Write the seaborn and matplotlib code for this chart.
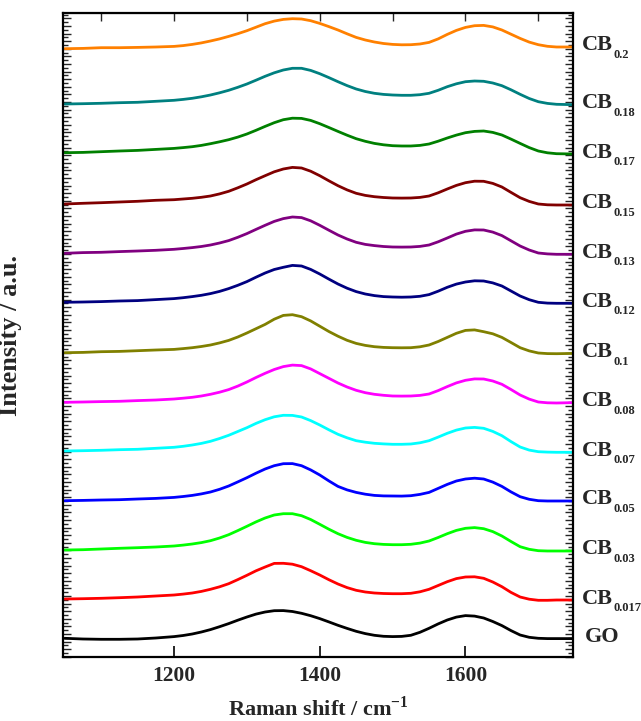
import pandas as pd
import matplotlib
matplotlib.use("Agg")
import matplotlib.pyplot as plt
import matplotlib.transforms as mtransforms
from matplotlib.ticker import MultipleLocator, AutoMinorLocator, NullFormatter
import seaborn as sns

shift = [1050, 1075, 1100, 1125, 1150, 1175, 1200, 1212.5, 1225, 1237.5, 1250,
         1262.5, 1275, 1287.5, 1300, 1312.5, 1325, 1337.5, 1350, 1362.5, 1375,
         1387.5, 1400, 1412.5, 1425, 1437.5, 1450, 1462.5, 1475, 1487.5, 1500,
         1512.5, 1525, 1537.5, 1550, 1562.5, 1575, 1587.5, 1600, 1612.5, 1625,
         1637.5, 1650, 1662.5, 1675, 1687.5, 1700, 1712.5, 1725, 1750]

# intensities (a.u.), bottom spectrum first
go = [0, -0.7, -1.0, -1.0, -0.7, 0.3, 1.7, 2.8, 4.3, 6.3, 8.7, 11.6, 14.7, 18.1,
      21.3, 24.2, 26.3, 27.6, 27.7, 26.8, 25.0, 22.6, 19.7, 16.4, 13.0, 9.9, 7.0,
      4.7, 3.0, 2.0, 1.7, 1.9, 3.0, 6.0, 10.0, 14.4, 18.3, 21.2, 22.7, 22.2, 20.3,
      16.8, 12.7, 7.7, 3.3, 1.0, 0, -0.3, -0.3, -0.3]
cb_0017 = [0, 0.3, 0.7, 1.3, 2.0, 3.0, 4.0, 4.9, 6.0, 7.6, 9.7, 12.2, 15.3, 19.4,
           23.7, 28.2, 32.0, 35.6, 35.7, 34.8, 32.3, 28.3, 24.0, 19.3, 15.0, 11.4,
           8.7, 7.0, 6.0, 5.5, 5.3, 5.3, 5.7, 7.2, 9.7, 13.5, 17.3, 20.4, 22.0,
           22.2, 20.7, 17.0, 12.3, 6.6, 2.0, -0.2, -1.3, -1.3, -1.0, -1.0]
cb_003 = [0, 0.3, 1.0, 1.7, 2.3, 3.0, 4.0, 4.9, 6.0, 7.4, 9.3, 12.0, 15.3, 19.4,
          23.7, 28.1, 32.0, 35.0, 36.3, 36.3, 34.3, 30.5, 25.7, 20.8, 16.3, 12.6,
          9.7, 7.6, 6.3, 5.6, 5.3, 5.3, 5.7, 6.9, 9.0, 12.5, 16.3, 19.6, 21.7,
          22.4, 21.3, 18.4, 14.0, 8.5, 3.3, 0.7, -0.7, -1.0, -1.0, -1.0]
cb_005 = [0, 0.3, 0.7, 1.0, 1.7, 2.3, 3.3, 4.2, 5.3, 6.8, 8.7, 11.4, 14.7, 18.8,
          23.0, 27.5, 31.7, 35.0, 37.0, 37.1, 35.0, 30.8, 25.7, 19.8, 14.3, 10.8,
          8.3, 6.5, 5.3, 4.8, 4.7, 4.6, 5.0, 6.3, 8.3, 12.3, 16.3, 19.7, 21.7,
          22.5, 21.7, 18.6, 14.3, 8.8, 4.0, 1.4, 0, -0.3, -0.3, -0.3]
cb_007 = [0, 0.3, 0.7, 1.3, 1.7, 2.7, 3.7, 4.7, 6.0, 7.6, 9.7, 12.5, 15.7, 19.5,
          23.3, 27.6, 31.3, 34.2, 35.7, 35.6, 34.0, 30.4, 26.0, 21.2, 16.7, 13.2,
          10.3, 8.8, 7.7, 7.1, 6.7, 6.7, 7.0, 8.2, 10.3, 13.9, 17.7, 20.9, 23.0,
          23.6, 22.7, 19.6, 15.3, 9.4, 4.0, 0.9, -0.7, -1.1, -1.3, -1.3]
cb_008 = [0, 0.3, 0.7, 1.0, 1.7, 2.3, 3.3, 4.1, 5.0, 6.3, 8.0, 10.1, 12.7, 16.2,
          20.3, 24.8, 29.0, 32.8, 35.7, 37.2, 36.7, 33.4, 28.7, 24.0, 19.3, 15.3,
          12.0, 9.6, 8.0, 7.0, 6.3, 6.2, 6.3, 6.9, 8.3, 11.7, 15.7, 19.4, 22.0,
          23.4, 23.3, 21.3, 18.0, 12.8, 7.3, 3.2, 0.3, -0.5, -0.7, -0.3]
cb_01 = [0, 0.3, 1.0, 1.3, 2.0, 2.7, 3.3, 4.1, 5.0, 6.2, 7.7, 9.8, 12.3, 15.7,
         19.7, 24.0, 28.3, 33.5, 37.3, 38.0, 36.0, 31.8, 26.5, 21.2, 16.5, 12.4,
         9.3, 7.3, 6.0, 5.3, 5.0, 4.9, 5.0, 5.9, 7.7, 11.2, 15.3, 19.4, 22.3,
         22.8, 21.0, 18.9, 15.3, 10.2, 5.0, 1.8, -0.3, -0.9, -1.0, -0.7]
cb_012 = [0, 0.3, 0.7, 1.3, 1.7, 2.7, 3.7, 4.6, 5.7, 7.0, 8.7, 10.9, 13.7, 17.0,
          20.7, 25.1, 29.3, 32.8, 35.0, 36.9, 36.3, 32.9, 28.3, 23.2, 18.3, 14.1,
          10.7, 8.3, 6.7, 5.7, 5.3, 5.1, 5.3, 6.0, 7.7, 11.1, 15.0, 18.2, 20.3,
          21.5, 21.3, 19.4, 16.3, 11.3, 6.3, 2.6, 0, -0.8, -1.0, -1.0]
cb_013 = [0, 0.7, 1.0, 1.7, 2.3, 3.0, 4.0, 4.8, 5.7, 6.8, 8.3, 10.3, 12.7, 16.0,
          19.7, 23.9, 28.0, 31.9, 34.7, 36.3, 35.7, 32.5, 28.0, 23.1, 18.3, 14.3,
          11.0, 8.9, 7.7, 6.8, 6.3, 6.2, 6.3, 6.9, 8.3, 11.5, 15.3, 19.2, 22.0,
          23.4, 23.3, 21.2, 17.7, 12.5, 7.3, 3.3, 0.3, -0.6, -1.0, -1.0]
cb_015 = [0, 0.7, 1.3, 2.0, 2.7, 3.7, 4.3, 5.0, 5.7, 6.7, 8.0, 10.1, 12.7, 16.2,
          20.0, 24.3, 28.3, 32.2, 35.0, 36.6, 36.0, 32.8, 28.3, 23.2, 18.3, 14.1,
          10.7, 8.6, 7.3, 6.5, 6.0, 5.9, 6.0, 6.6, 8.0, 11.2, 15.0, 18.6, 21.3,
          22.8, 22.7, 20.6, 17.0, 11.6, 6.3, 2.6, 0, -0.8, -1.0, -1.0]
cb_017 = [0, 0.3, 1.0, 1.7, 2.3, 3.3, 4.3, 5.1, 6.0, 7.3, 9.0, 10.9, 13.0, 15.6,
          18.7, 22.4, 26.3, 30.0, 33.0, 34.5, 34.3, 32.3, 29.0, 25.2, 21.3, 17.5,
          14.0, 11.4, 9.3, 7.9, 7.0, 6.7, 6.7, 7.3, 8.7, 11.5, 14.7, 17.6, 20.0,
          21.3, 21.7, 20.3, 17.7, 13.6, 9.3, 5.1, 1.7, -0.1, -1.0, -1.3]
cb_018 = [0, 0.3, 0.7, 1.3, 1.7, 2.7, 3.7, 4.6, 5.7, 7.2, 9.0, 11.2, 13.7, 16.7,
          20.0, 23.8, 27.7, 31.2, 34.0, 35.7, 35.7, 33.6, 30.3, 26.4, 22.3, 18.4,
          15.0, 12.5, 10.7, 9.6, 9.0, 8.7, 8.7, 9.3, 10.7, 13.7, 17.3, 20.2, 22.3,
          23.0, 22.7, 21.0, 18.3, 14.2, 9.7, 5.5, 2.3, 0.6, -0.3, -0.7]
cb_02 = [0, 0.3, 1.0, 1.0, 1.3, 1.7, 2.3, 3.1, 4.3, 5.8, 7.7, 9.8, 12.3, 15.0,
         18.0, 21.5, 25.0, 27.6, 29.3, 30.0, 29.7, 28.0, 25.3, 22.1, 18.7, 14.9,
         11.3, 8.7, 6.7, 5.2, 4.3, 3.9, 4.0, 4.7, 6.3, 9.8, 14.3, 18.3, 21.3,
         23.0, 23.3, 21.8, 18.7, 14.5, 10.3, 6.6, 4.0, 2.4, 1.7, 1.7]

samples = ["GO", "0.017", "0.03", "0.05", "0.07", "0.08", "0.1", "0.12",
           "0.13", "0.15", "0.17", "0.18", "0.2"]
spectra = [go, cb_0017, cb_003, cb_005, cb_007, cb_008, cb_01, cb_012,
           cb_013, cb_015, cb_017, cb_018, cb_02]
offsets = [18.4, 57.7, 106.7, 156.0, 205.7, 254.4, 304.0, 354.4,
           403.4, 452.7, 504.0, 552.7, 608.0]
colors = ["#000000", "#ff0000", "#00ff00", "#0000ff", "#00ffff", "#ff00ff",
          "#808000", "#000080", "#800080", "#800000", "#008000", "#008080",
          "#ff8000"]

rows = []
for name, spec, off in zip(samples, spectra, offsets):
    for x, v in zip(shift, spec):
        rows.append({"shift": x, "y": v + off, "sample": name})
df = pd.DataFrame(rows)

sns.set_style("ticks")
plt.rcParams["font.family"] = ["Liberation Serif", "DejaVu Serif"]
plt.rcParams["font.weight"] = "bold"
plt.rcParams["mathtext.fontset"] = "custom"
plt.rcParams["mathtext.rm"] = "Liberation Serif:bold"
plt.rcParams["mathtext.bf"] = "Liberation Serif:bold"

fig = plt.figure(figsize=(6.41, 7.21), dpi=100)
ax = fig.add_axes([63.3 / 641, 64.3 / 721, 510 / 641, 643.4 / 721])

sns.lineplot(data=df, x="shift", y="y", hue="sample", palette=dict(zip(samples, colors)),
             hue_order=samples, legend=False, linewidth=2.0, estimator=None, sort=False, ax=ax)

ax.set_xlim(1048, 1748)
ax.set_ylim(0, 643.4)
for sp in ax.spines.values():
    sp.set_linewidth(1.6)
    sp.set_color("black")

ax.set_xticks([1200, 1400, 1600])
ax.tick_params(axis="x", which="major", direction="in", length=8, width=1.4,
               labelsize=15.5, pad=7, top=False)
ax.yaxis.set_major_locator(MultipleLocator(7.6))
ax.yaxis.set_minor_locator(AutoMinorLocator(2))
ax.yaxis.set_major_formatter(NullFormatter())
ax.tick_params(axis="y", which="major", direction="in", length=6, width=1.0,
               left=True, right=True)
ax.tick_params(axis="y", which="minor", direction="in", length=3.5, width=1.0,
               left=True, right=True)

top = ax.secondary_xaxis("top")
top.set_xticks([1100, 1200, 1300, 1400, 1500, 1600, 1700])
top.tick_params(direction="in", length=6, width=1.0, labeltop=False)
top.xaxis.set_major_formatter(NullFormatter())

ax.set_xlabel("Raman shift / cm$^{-1}$", fontsize=16, fontweight="bold")
ax.xaxis.set_label_coords(0.5, -0.062)
ax.set_ylabel("Intensity / a.u.", fontsize=19, fontweight="bold")
ax.yaxis.set_label_coords(-0.08, 0.5)

# sample labels beside the right spine: "CB" with a small subscript
trans = mtransforms.blended_transform_factory(ax.transAxes, ax.transData)
for name, spec, off in zip(samples, spectra, offsets):
    y = spec[-1] + off - 3.5
    if name == "GO":
        ax.text(1.023, y, "GO", transform=trans, fontsize=16, fontweight="bold",
                va="baseline", ha="left")
        continue
    ax.text(1.017, y, "CB", transform=trans, fontsize=16, fontweight="bold",
            va="baseline", ha="left")
    ax.annotate(name, xy=(1.017, y), xycoords=trans, xytext=(22.6, -5.5),
                textcoords="offset points", fontsize=9, fontweight="bold",
                va="baseline", ha="left", annotation_clip=False)

fig.savefig("out.png", dpi=100)
